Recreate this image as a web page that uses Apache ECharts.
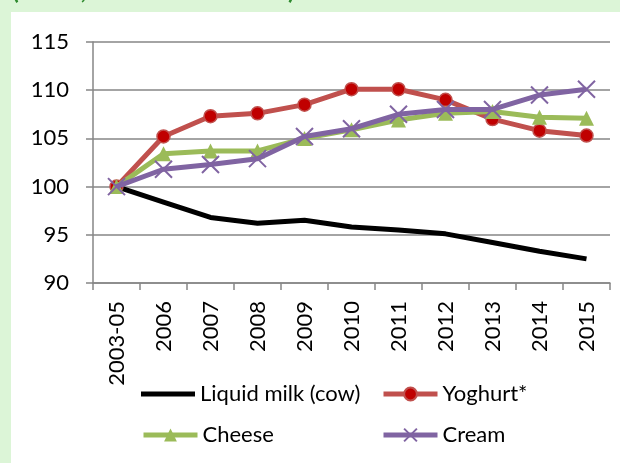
<!DOCTYPE html>
<html>
<head>
<meta charset="utf-8">
<script src="https://cdn.jsdelivr.net/npm/echarts@6/dist/echarts.min.js"></script>
<style>
  html, body { margin: 0; padding: 0; }
  #chart { width: 620px; height: 463px; }
</style>
</head>
<body>
<div id="chart"></div>
<script>
// Period labels along the x axis
const periods = ['2003-05', '2006', '2007', '2008', '2009', '2010', '2011', '2012', '2013', '2014', '2015'];

// Index values (2003-05 = 100)
const liquidMilk = [100, 98.4, 96.8, 96.2, 96.5, 95.8, 95.5, 95.1, 94.2, 93.3, 92.5];
const yoghurt    = [100, 105.2, 107.3, 107.6, 108.5, 110.1, 110.1, 109.0, 107.0, 105.8, 105.3];
const cheese     = [100, 103.4, 103.7, 103.7, 105.0, 105.9, 106.9, 107.6, 107.8, 107.2, 107.1];
const cream      = [100, 101.8, 102.3, 102.9, 105.2, 106.0, 107.5, 108.0, 108.0, 109.5, 110.1];

// Value axis ticks
const yTicks = [90, 95, 100, 105, 110, 115];

const FONT = 'Lato';
const chart = echarts.init(document.getElementById('chart'), null, { renderer: 'canvas' });

const crossPath = 'path://M0,0L10,10M10,0L0,10';
// plain thick bar for the line-only legend entry; the tiny corner specks keep a 16px tall box
const barIcon = 'path://M0,0L0.01,0L0,0.01Z M0,5.5H54V10.5H0Z M54,16L53.99,16L54,15.99Z';

function legendAt(name, left, top, extra) {
  return Object.assign({
    data: [name],
    left: left,
    top: top,
    itemWidth: 54,
    itemHeight: 16,
    itemGap: 0,
    padding: 0,
    lineStyle: { width: 5 },
    textStyle: { fontFamily: FONT, fontSize: 22, color: '#000' },
    selectedMode: false
  }, extra || {});
}

chart.setOption({
  backgroundColor: '#dcf5d7',
  animation: false,
  graphic: [
    {
      type: 'rect',
      shape: { x: 11, y: 12, width: 609, height: 451 },
      style: { fill: '#ffffff' },
      z: -10
    },
    {
      type: 'text',
      x: 12, y: 3,
      style: {
        text: '(Index, 2003-2005 = 100)',
        font: 'bold 25px ' + FONT,
        fill: '#2f8a2f',
        verticalAlign: 'bottom'
      }
    }
  ],
  grid: { left: 93, right: 10, top: 42, bottom: 180 },
  xAxis: {
    type: 'category',
    data: periods,
    boundaryGap: true,
    axisLine: { lineStyle: { color: '#868686', width: 1.5 } },
    axisTick: { show: true, length: 7, alignWithLabel: false, lineStyle: { color: '#868686', width: 1.5 } },
    axisLabel: { rotate: 90, margin: 18, fontFamily: FONT, fontSize: 22, color: '#000', interval: 0 }
  },
  yAxis: {
    type: 'value',
    min: yTicks[0],
    max: yTicks[yTicks.length - 1],
    interval: 5,
    axisLine: { show: true, lineStyle: { color: '#868686', width: 1.5 } },
    axisTick: { show: true, length: 7, lineStyle: { color: '#868686', width: 1.5 } },
    axisLabel: { margin: 24, fontFamily: FONT, fontSize: 22, color: '#000' },
    splitLine: { lineStyle: { color: '#868686', width: 1.5 } }
  },
  legend: [
    legendAt('Liquid milk (cow)', 141, 383, { icon: barIcon }),
    legendAt('Yoghurt*', 381, 383),
    legendAt('Cheese', 141, 424),
    legendAt('Cream', 381, 424)
  ],
  series: [
    {
      name: 'Liquid milk (cow)',
      type: 'line',
      data: liquidMilk,
      showSymbol: false,
      symbol: 'none',
      lineStyle: { color: '#000000', width: 5 },
      itemStyle: { color: '#000000' },
      z: 2
    },
    {
      name: 'Yoghurt*',
      type: 'line',
      data: yoghurt,
      symbol: 'circle',
      symbolSize: 13,
      lineStyle: { color: '#c0504d', width: 5 },
      itemStyle: { color: '#c00000', borderColor: '#c0504d', borderWidth: 1.5 },
      z: 3
    },
    {
      name: 'Cheese',
      type: 'line',
      data: cheese,
      symbol: 'triangle',
      symbolSize: 15,
      lineStyle: { color: '#9bbb59', width: 5 },
      itemStyle: { color: '#9bbb59' },
      z: 4
    },
    {
      name: 'Cream',
      type: 'line',
      data: cream,
      symbol: crossPath,
      symbolSize: 17,
      lineStyle: { color: '#8064a2', width: 5 },
      itemStyle: { color: 'none', borderColor: '#8064a2', borderWidth: 2 },
      z: 5
    }
  ]
});
</script>
</body>
</html>
